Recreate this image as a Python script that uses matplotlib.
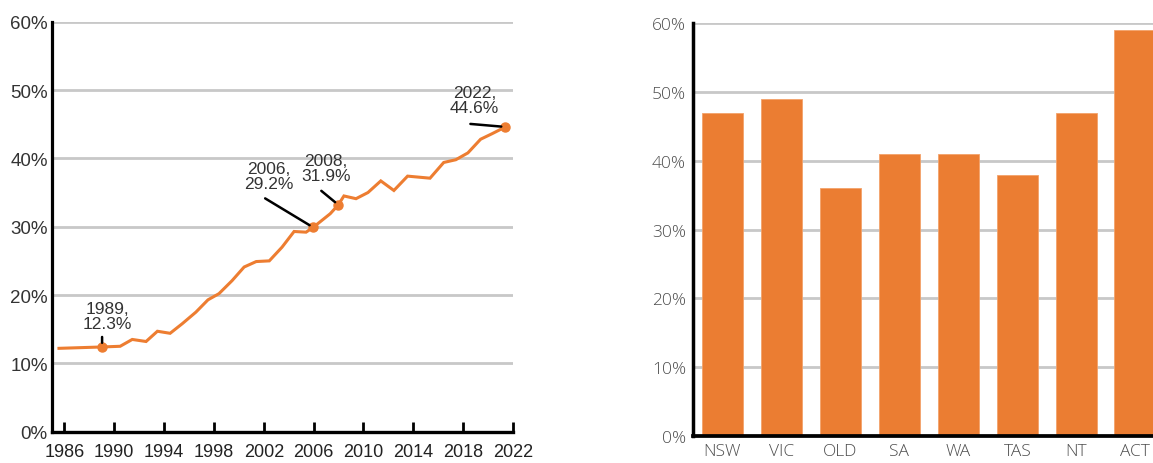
#!/usr/bin/env python3
# -*- coding: utf-8 -*-
'''Share of population with a degree - trend line + states bar chart'''

#%% imports
import matplotlib
matplotlib.use('Agg')
import matplotlib.pyplot as plt

#%% data

# left panel: national series
years = [1985.56, 1989.02, 1990.47, 1991.44, 1992.55, 1993.46, 1994.48, 1995.45,
         1996.55, 1997.52, 1998.40, 1999.45, 2000.42, 2001.39, 2002.44, 2003.46,
         2004.43, 2005.39, 2005.96, 2007.33, 2007.98, 2008.43, 2009.40, 2010.36,
         2011.39, 2012.44, 2013.54, 2015.34, 2016.44, 2017.41, 2018.38, 2019.40,
         2020.31, 2021.39]
share = [12.2, 12.4, 12.5, 13.5, 13.2, 14.7, 14.4, 15.8,
         17.5, 19.3, 20.2, 22.1, 24.1, 24.9, 25.0, 27.0,
         29.3, 29.2, 29.9, 31.9, 33.2, 34.5, 34.1, 35.0,
         36.7, 35.3, 37.4, 37.1, 39.4, 39.8, 40.8, 42.8,
         43.6, 44.6]
xtick_years = list(range(1986, 2023, 4))

# highlighted points: index into the series + label text
hl_idx = [1, 18, 20, 33]
hl_text = ['1989,\n12.3%', '2006,\n29.2%', '2008,\n31.9%', '2022,\n44.6%']

# right panel: states
states = ['NSW', 'VIC', 'OLD', 'SA', 'WA', 'TAS', 'NT', 'ACT']
state_share = [47, 49, 36, 41, 41, 38, 47, 59]

yticks = [0, 10, 20, 30, 40, 50, 60]
ytick_labels = ['%d%%' % v for v in yticks]

#%% styles
orange = '#ED7D31'
bar_orange = '#EB7D32'
grid_col = '#C8C8C8'

# leader line start (offset px from point) and text centre (offset px)
line_off = [(0, 10), (-48, 29), (-17, 14), (-35, 3)]
text_off = [(5, 31), (-44, 51), (-12.5, 37), (-31, 26.5)]

fig = plt.figure(figsize=(11.53, 4.64), dpi=100)

#%% left panel
ax1 = fig.add_axes([52/1153, 1 - 432.7/464, 461/1153, 410/464])
ax1.set_xlim(1985, 2022)
ax1.set_ylim(0, 60)
for v in yticks[1:]:
    ax1.axhline(v, color=grid_col, lw=2, zorder=1)

ax1.plot(years, share, color=orange, lw=2.2, zorder=3, solid_joinstyle='miter')
ax1.plot([years[i] for i in hl_idx], [share[i] for i in hl_idx], 'o',
         color=orange, ms=6.5, zorder=4)

for i, txt, lo, to in zip(hl_idx, hl_text, line_off, text_off):
    pt = (years[i], share[i])
    ax1.annotate('', xy=pt, xytext=lo, textcoords='offset pixels',
                 arrowprops=dict(arrowstyle='-', color='black', lw=1.8,
                                 shrinkA=0, shrinkB=3), zorder=5)
    ax1.annotate(txt, xy=pt, xytext=to, textcoords='offset pixels',
                 ha='center', va='center', fontsize=12.5, color='#333333',
                 family='Liberation Sans', linespacing=1.0, zorder=5)

for s in ['top', 'right']:
    ax1.spines[s].set_visible(False)
ax1.spines['left'].set_linewidth(2.3)
ax1.spines['bottom'].set_linewidth(2.4)
ax1.spines['left'].set_zorder(6)
ax1.spines['bottom'].set_zorder(6)

ax1.set_xticks(xtick_years)
ax1.set_xticklabels([str(y) for y in xtick_years], family='Liberation Sans',
                    fontsize=13, color='#222222')
ax1.tick_params(axis='x', direction='in', length=7.5, width=2, color='black', pad=8)
ax1.set_yticks(yticks)
ax1.set_yticklabels(ytick_labels, family='Liberation Sans', fontsize=13.5,
                    color='#333333')
ax1.tick_params(axis='y', length=0, pad=3)

#%% right panel
ax2 = fig.add_axes([693/1153, 1 - 437/464, 1 - 693/1153, (437 - 24.3)/464])
ax2.set_xlim(-0.5, 7.3)
ax2.set_ylim(0, 60)
for v in yticks[1:]:
    ax2.axhline(v, color=grid_col, lw=2, zorder=1)
ax2.bar(range(len(states)), state_share, width=0.706, color=bar_orange,
        edgecolor='#F3A26A', linewidth=0.6, zorder=2)

for s in ['top', 'right']:
    ax2.spines[s].set_visible(False)
ax2.spines['left'].set_linewidth(2.5)
ax2.spines['bottom'].set_linewidth(2.7)
ax2.spines['left'].set_zorder(6)
ax2.spines['bottom'].set_zorder(6)

ax2.set_xticks(range(len(states)))
ax2.set_xticklabels(states, family='Open Sans', fontweight='light',
                    fontsize=12.5, color='#4D4D4D')
ax2.tick_params(axis='x', length=0, pad=5)
ax2.set_yticks(yticks)
ax2.set_yticklabels(ytick_labels, family='Open Sans', fontweight='light',
                    fontsize=12.5, color='#4D4D4D')
ax2.tick_params(axis='y', length=0, pad=5)

fig.savefig('out.png', dpi=100)
